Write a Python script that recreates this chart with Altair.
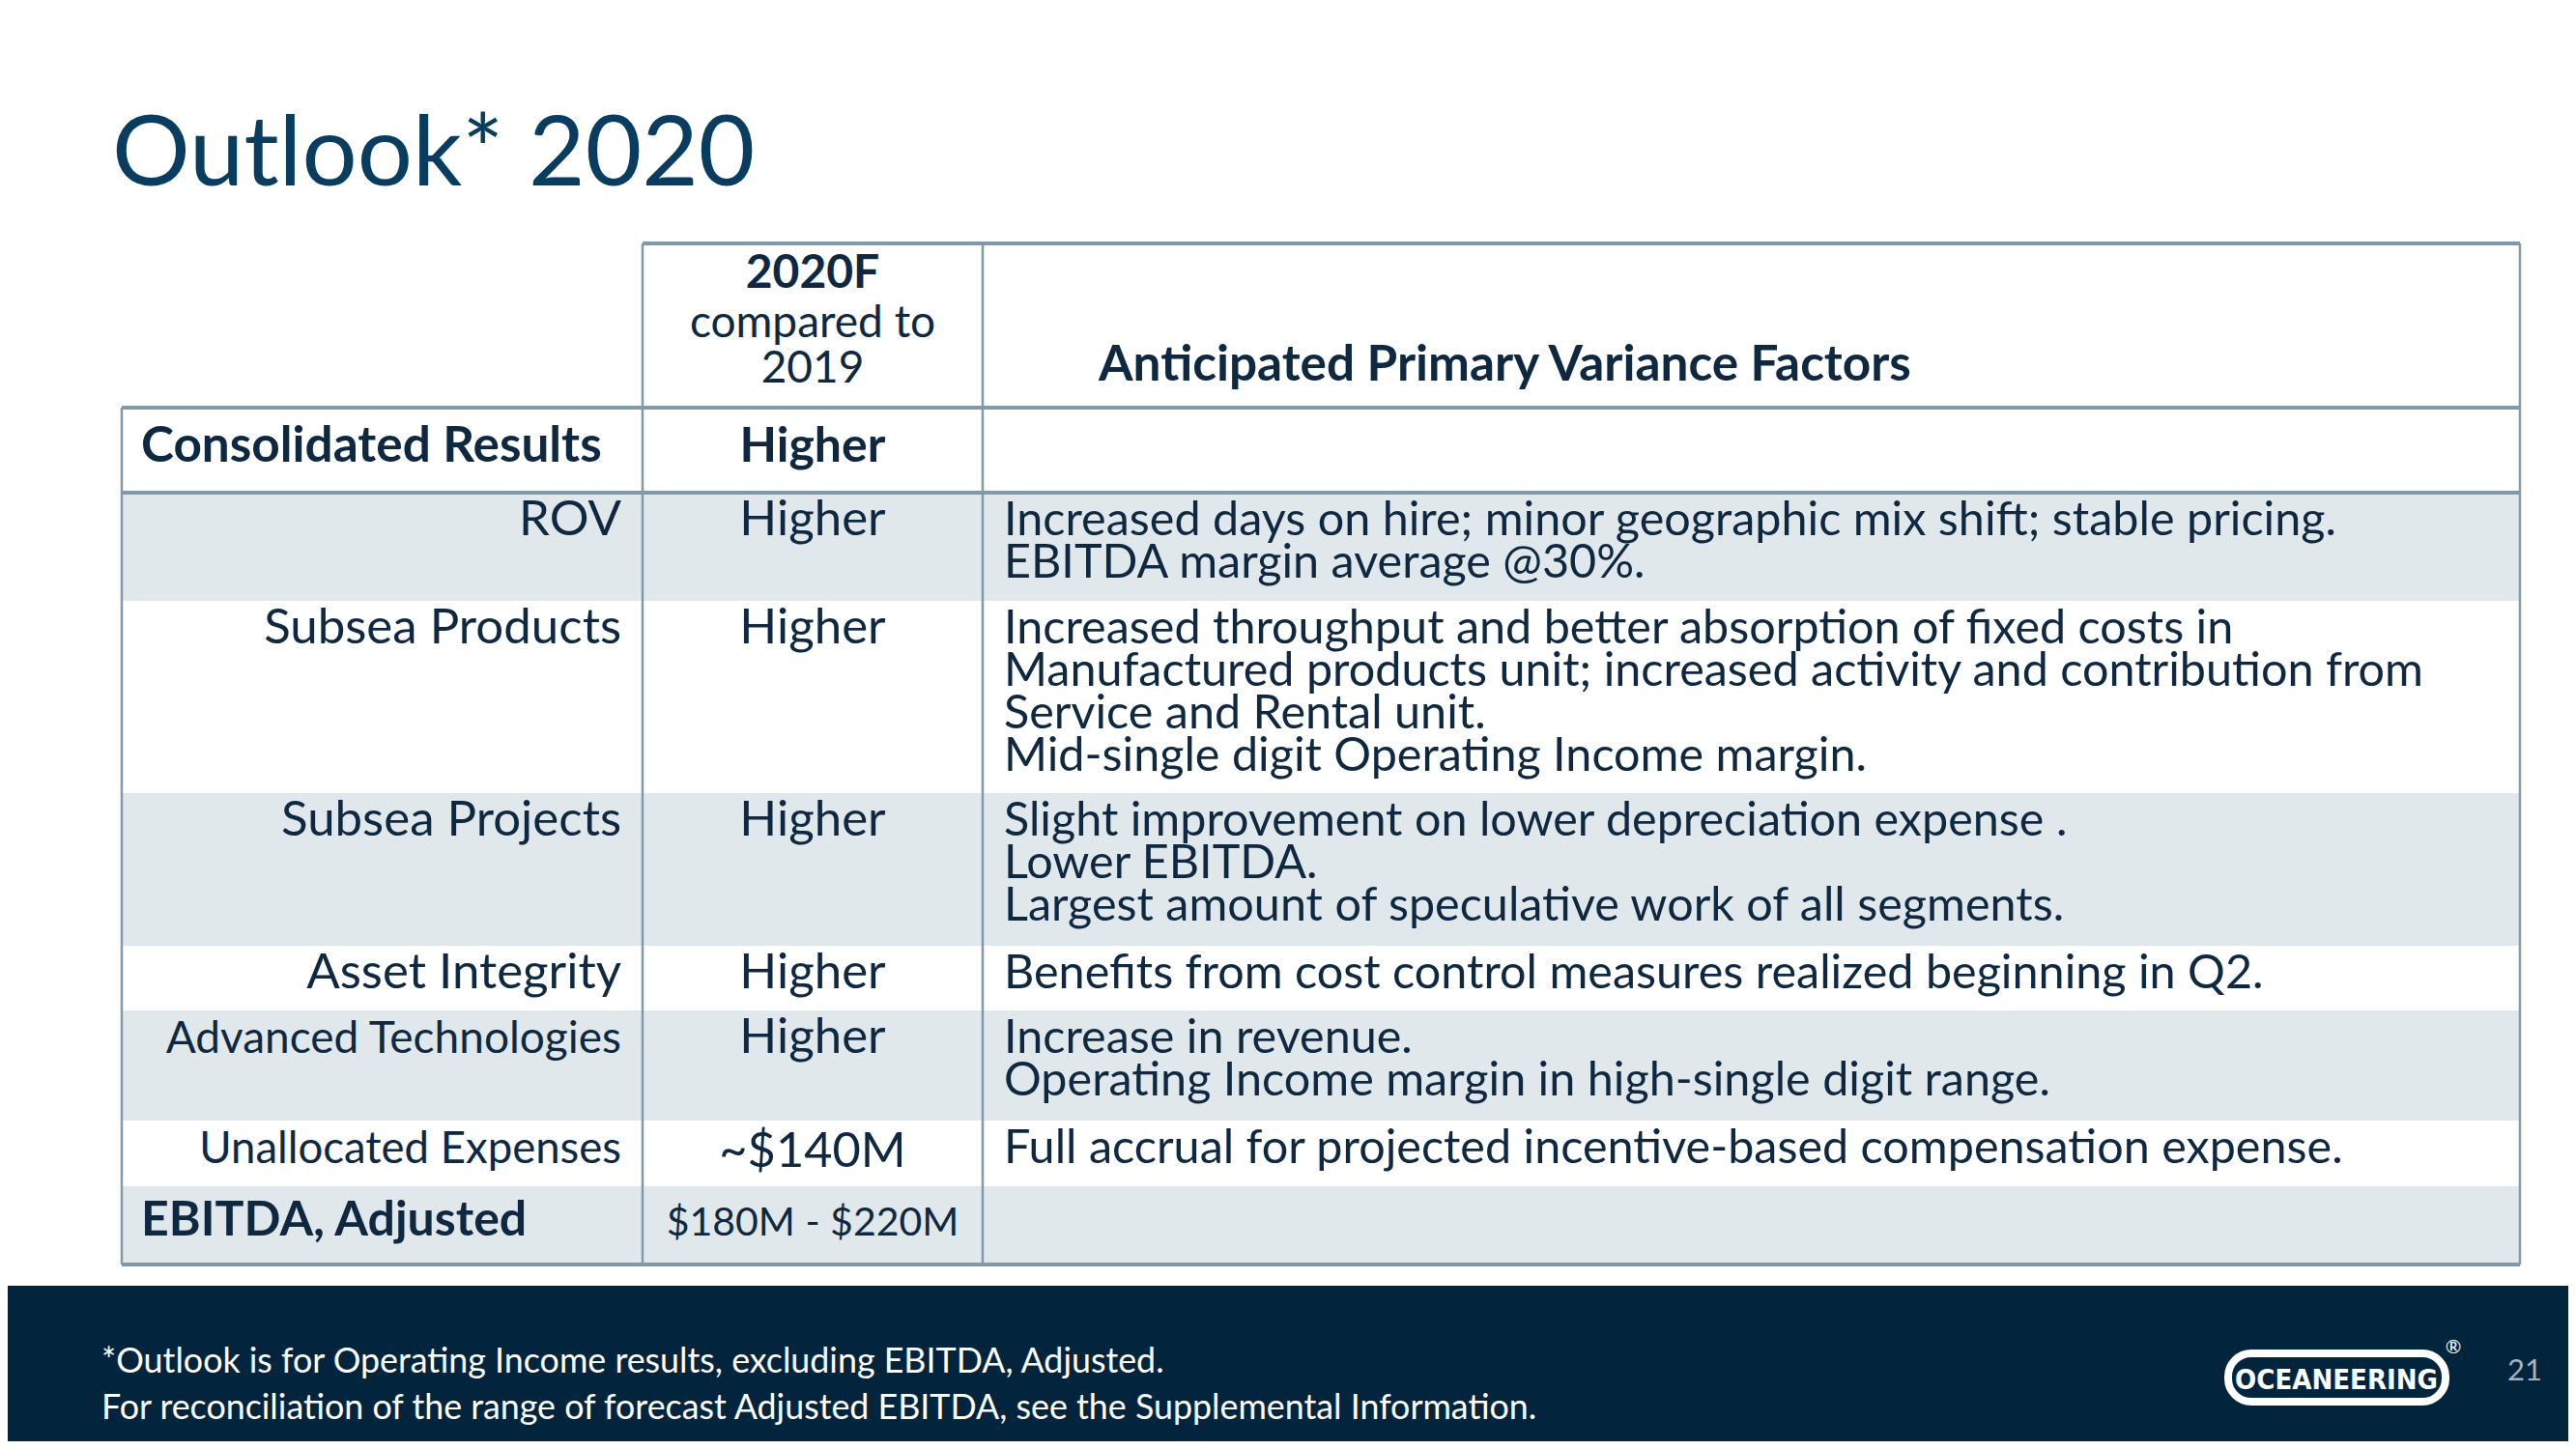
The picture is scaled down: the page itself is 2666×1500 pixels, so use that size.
import altair as alt
import pandas as pd

# ---------------- content ----------------
title = "Outlook* 2020"
col2_header = ["2020F", "compared to", "2019"]
col3_header = "Anticipated Primary Variance Factors"
consolidated_label = "Consolidated Results"
consolidated_value = "Higher"
segments = ["ROV", "Subsea Products", "Subsea Projects", "Asset Integrity",
            "Advanced Technologies", "Unallocated Expenses"]
outlook = ["Higher", "Higher", "Higher", "Higher", "Higher", "~$140M"]
factors = [
    "Increased days on hire; minor geographic mix shift; stable pricing.\nEBITDA margin average @30%.",
    "Increased throughput and better absorption of fixed costs in\nManufactured products unit; increased activity and contribution from\nService and Rental unit.\nMid-single digit Operating Income margin.",
    "Slight improvement on lower depreciation expense .\nLower EBITDA.\nLargest amount of speculative work of all segments.",
    "Benefits from cost control measures realized beginning in Q2.",
    "Increase in revenue.\nOperating Income margin in high-single digit range.",
    "Full accrual for projected incentive-based compensation expense.",
]
ebitda_label = "EBITDA, Adjusted"
ebitda_value = "$180M - $220M"
footnotes = ["*Outlook is for Operating Income results, excluding EBITDA, Adjusted.",
             "For reconciliation of the range of forecast Adjusted EBITDA, see the Supplemental Information."]
page_number = "21"
brand = "OCEANEERING"

# ---------------- layout (page pixels) ----------------
W, H = 2666, 1500
col_x = [126, 665, 1017, 2608]
header_top = 252
row_y = [422, 510, 622, 821, 979, 1046, 1160, 1228, 1309]
footer_top = 1331

FONT = "Lato, Carlito, Calibri, 'Open Sans', sans-serif"
TXT = "#0E2841"
GRID = "#8299AA"
SHADE = "#E1E8EC"
NAVY = "#03243D"

X = lambda f: alt.X(f, type="quantitative", scale=alt.Scale(domain=[8, W - 8]), axis=None)
Y = lambda f: alt.Y(f, type="quantitative", scale=alt.Scale(domain=[8, H - 8], reverse=True), axis=None)

layers = []

# shaded rows
shade_rows = [1, 3, 5, 7]
shade = pd.DataFrame({
    "x": [col_x[0]] * len(shade_rows), "x2": [col_x[3]] * len(shade_rows),
    "y": [row_y[i] for i in shade_rows], "y2": [row_y[i + 1] for i in shade_rows],
})
layers.append(alt.Chart(shade).mark_rect(color=SHADE).encode(
    x=X("x"), x2="x2", y=Y("y"), y2="y2"))

# footer band
band = pd.DataFrame({"x": [0], "x2": [W], "y": [footer_top], "y2": [H]})
layers.append(alt.Chart(band).mark_rect(color=NAVY).encode(
    x=X("x"), x2="x2", y=Y("y"), y2="y2"))

# grid lines
vlines = pd.DataFrame({
    "x": [col_x[0], col_x[1], col_x[2], col_x[3]],
    "y": [row_y[0], header_top, header_top, header_top],
    "y2": [row_y[-1]] * 4,
})
layers.append(alt.Chart(vlines).mark_rule(color=GRID, strokeWidth=2.5).encode(
    x=X("x"), y=Y("y"), y2="y2"))
hlines = pd.DataFrame({
    "x": [col_x[1], col_x[0], col_x[0], col_x[0]],
    "x2": [col_x[3]] * 4,
    "y": [header_top, row_y[0], row_y[1], row_y[-1]],
})
layers.append(alt.Chart(hlines).mark_rule(color=GRID, strokeWidth=4).encode(
    x=X("x"), x2="x2", y=Y("y")))


def text_layer(df, size, weight="normal", align="left", color=TXT, line_height=None, font=FONT):
    kw = dict(font=font, fontSize=size, fontWeight=weight, align=align,
              baseline="alphabetic", color=color)
    if line_height:
        kw.update(lineBreak="\n", lineHeight=line_height)
    return alt.Chart(df).mark_text(**kw).encode(x=X("x"), y=Y("y"), text="t:N")


c2 = (col_x[1] + col_x[2]) / 2

# title
layers.append(text_layer(pd.DataFrame({"x": [116], "y": [192], "t": [title]}),
                         101, color="#083D60"))

# header
layers.append(text_layer(pd.DataFrame({"x": [c2], "y": [298], "t": [col2_header[0]]}),
                         48, "bold", "center"))
layers.append(text_layer(pd.DataFrame({"x": [c2, c2], "y": [349, 396], "t": col2_header[1:]}),
                         46, "normal", "center"))
layers.append(text_layer(pd.DataFrame({"x": [1137], "y": [394], "t": [col3_header]}),
                         51.3, "bold"))

# consolidated + ebitda rows
layers.append(text_layer(pd.DataFrame({"x": [col_x[0] + 20], "y": [478],
                                       "t": [consolidated_label]}),
                         51.3, "bold"))
layers.append(text_layer(pd.DataFrame({"x": [col_x[0] + 20], "y": [1279],
                                       "t": [ebitda_label]}),
                         50, "bold"))
layers.append(text_layer(pd.DataFrame({"x": [c2], "y": [478], "t": [consolidated_value]}),
                         50, "bold", "center"))
layers.append(text_layer(pd.DataFrame({"x": [c2], "y": [1279], "t": [ebitda_value]}),
                         41, "normal", "center"))

# segment rows
tops = row_y[1:7]
base = [t + 44 for t in tops]
label_size = [51, 51, 51, 51, 46, 45.5]
value_size = [51, 51, 51, 51, 51, 50.5]
for i in range(len(segments)):
    layers.append(text_layer(pd.DataFrame({"x": [col_x[1] - 22], "y": [base[i]],
                                           "t": [segments[i]]}),
                             label_size[i], "normal", "right"))
    layers.append(text_layer(pd.DataFrame({"x": [c2],
                                           "y": [base[i] + (4 if outlook[i].startswith("~") else 0)],
                                           "t": [outlook[i]]}),
                             value_size[i], "normal", "center"))
layers.append(text_layer(pd.DataFrame({"x": [col_x[2] + 22] * 6, "y": base, "t": factors}),
                         48.5, "normal", "left", line_height=44))

# footer text
layers.append(text_layer(pd.DataFrame({"x": [105, 105], "y": [1421, 1469], "t": footnotes}),
                         35.8, "normal", "left", color="white"))
layers.append(text_layer(pd.DataFrame({"x": [2613], "y": [1429], "t": [page_number]}),
                         31, "normal", "center", color="#9FB5C8"))

# logo
logo = pd.DataFrame({"x": [2306], "x2": [2531], "y": [1401], "y2": [1451]})
layers.append(alt.Chart(logo).mark_rect(fill=NAVY, stroke="white", strokeWidth=8,
                                        cornerRadius=24).encode(
    x=X("x"), x2="x2", y=Y("y"), y2="y2"))
layers.append(text_layer(pd.DataFrame({"x": [2418], "y": [1438], "t": [brand]}),
                         29, "bold", "center", color="white",
                         font="'Liberation Sans Narrow', 'DejaVu Sans Condensed', sans-serif"))
layers.append(text_layer(pd.DataFrame({"x": [2539], "y": [1401], "t": ["®"]}),
                         20, "normal", "center", color="white"))

chart = alt.layer(*layers).properties(
    width=W - 16, height=H - 16, padding=0, autosize="none"
).configure_view(stroke=None)

chart.save("out.html", embed_options={"renderer": "svg", "actions": False})
